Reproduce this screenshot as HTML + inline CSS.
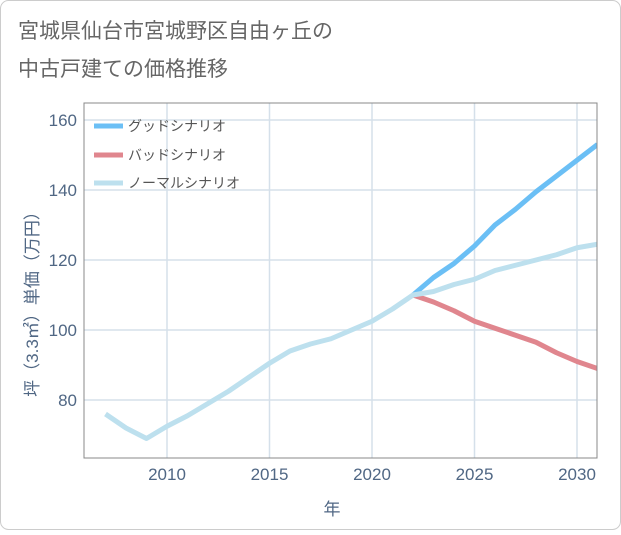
<!DOCTYPE html>
<html><head><meta charset="utf-8"><style>
body{margin:0;background:#fff;font-family:"Liberation Sans","Noto Sans CJK JP",sans-serif;}
#wrap{position:relative;width:621px;height:530px;}
</style></head><body>
<div id="wrap">
<svg id="c" width="621" height="530">
<rect x="0.5" y="0.5" width="620" height="529" rx="8" fill="#fff" stroke="#ccc"/>
<text x="18" y="38" font-size="21" fill="#666" font-family="Liberation Sans,Noto Sans CJK JP,sans-serif">宮城県仙台市宮城野区自由ヶ丘の</text>
<text x="18" y="76" font-size="21" fill="#666" font-family="Liberation Sans,Noto Sans CJK JP,sans-serif">中古戸建ての価格推移</text>
<g id="grid"></g>
<g id="series"></g>
<rect x="84" y="103" width="513" height="355" fill="none" stroke="#888" stroke-width="1"/>
<g id="ticks"></g>
<text x="332" y="515" font-size="17" fill="#506784" text-anchor="middle" font-family="Liberation Sans,Noto Sans CJK JP,sans-serif">年</text>
<text transform="translate(38,300) rotate(-90)" font-size="17" fill="#506784" text-anchor="middle" font-family="Liberation Sans,Noto Sans CJK JP,sans-serif">坪（3.3㎡）単価（万円）</text>
<g id="legend"></g>
</svg>
</div>
<script>
const years=[2007,2008,2009,2010,2011,2012,2013,2014,2015,2016,2017,2018,2019,2020,2021,2022,2023,2024,2025,2026,2027,2028,2029,2030,2031];
const normalVals=[76,72,69,72.5,75.5,79,82.5,86.5,90.5,94,96,97.5,100,102.5,106,110,111,113,114.5,117,118.5,120,121.5,123.5,124.5];
const futYears=[2022,2023,2024,2025,2026,2027,2028,2029,2030,2031];
const goodVals=[110,115,119,124,130,134.5,139.5,144,148.5,153];
const badVals=[110,108,105.5,102.5,100.5,98.5,96.5,93.5,91,89];
const xTicks=[2010,2015,2020,2025,2030];
const yTicks=[80,100,120,140,160];
const NS="http://www.w3.org/2000/svg";
const X0=84,X1=597,Y0=103,Y1=458;
const x=v=>167+(v-2010)*(577-167)/20;
const y=v=>330-(v-100)*(330-120)/60;
function mk(t,a,p){const e=document.createElementNS(NS,t);for(const k in a)e.setAttribute(k,a[k]);p.appendChild(e);return e;}
const grid=document.getElementById('grid'),ticks=document.getElementById('ticks');
xTicks.forEach(v=>{const l=mk('line',{x1:x(v),x2:x(v),y1:Y0,y2:Y1,stroke:'#d5e0ea','stroke-width':1.5},grid);


const t=mk('text',{x:x(v),y:480,'font-size':17,fill:'#506784','text-anchor':'middle'},ticks);t.textContent=v;

});
yTicks.forEach(v=>{const l=mk('line',{x1:X0,x2:X1,y1:y(v),y2:y(v),stroke:'#d5e0ea','stroke-width':1.5},grid);


const t=mk('text',{x:77,y:y(v)+6,'font-size':17,fill:'#506784','text-anchor':'end'},ticks);t.textContent=v;

});
const ser=document.getElementById('series');
function line(xs,vs,col,name){const p=mk('polyline',{points:xs.map((v,i)=>x(v)+','+y(vs[i])).join(' '),fill:'none',stroke:col,'stroke-width':5,'stroke-linejoin':'round','clip-path':'url(#clip)'},ser);

}
const defs=mk('defs',{},document.getElementById('c'));const cp=mk('clipPath',{id:'clip'},defs);mk('rect',{x:X0,y:Y0,width:X1-X0,height:Y1-Y0},cp);
line(futYears,goodVals,'#6bbff5','good-scenario-line');
line(futYears,badVals,'#e0868e','bad-scenario-line');
line(years,normalVals,'#bde0ee','normal-scenario-line');
const lg=document.getElementById('legend');
[['グッドシナリオ','#6bbff5',126],['バッドシナリオ','#e0868e',155],['ノーマルシナリオ','#bde0ee',183]].forEach(([n,c,yy])=>{
const r=mk('line',{x1:94,x2:123,y1:yy,y2:yy,stroke:c,'stroke-width':5},lg);


const t=mk('text',{x:128,y:yy+5,'font-size':14,fill:'#555'},lg);t.textContent=n;

});
</script>
</body></html>
